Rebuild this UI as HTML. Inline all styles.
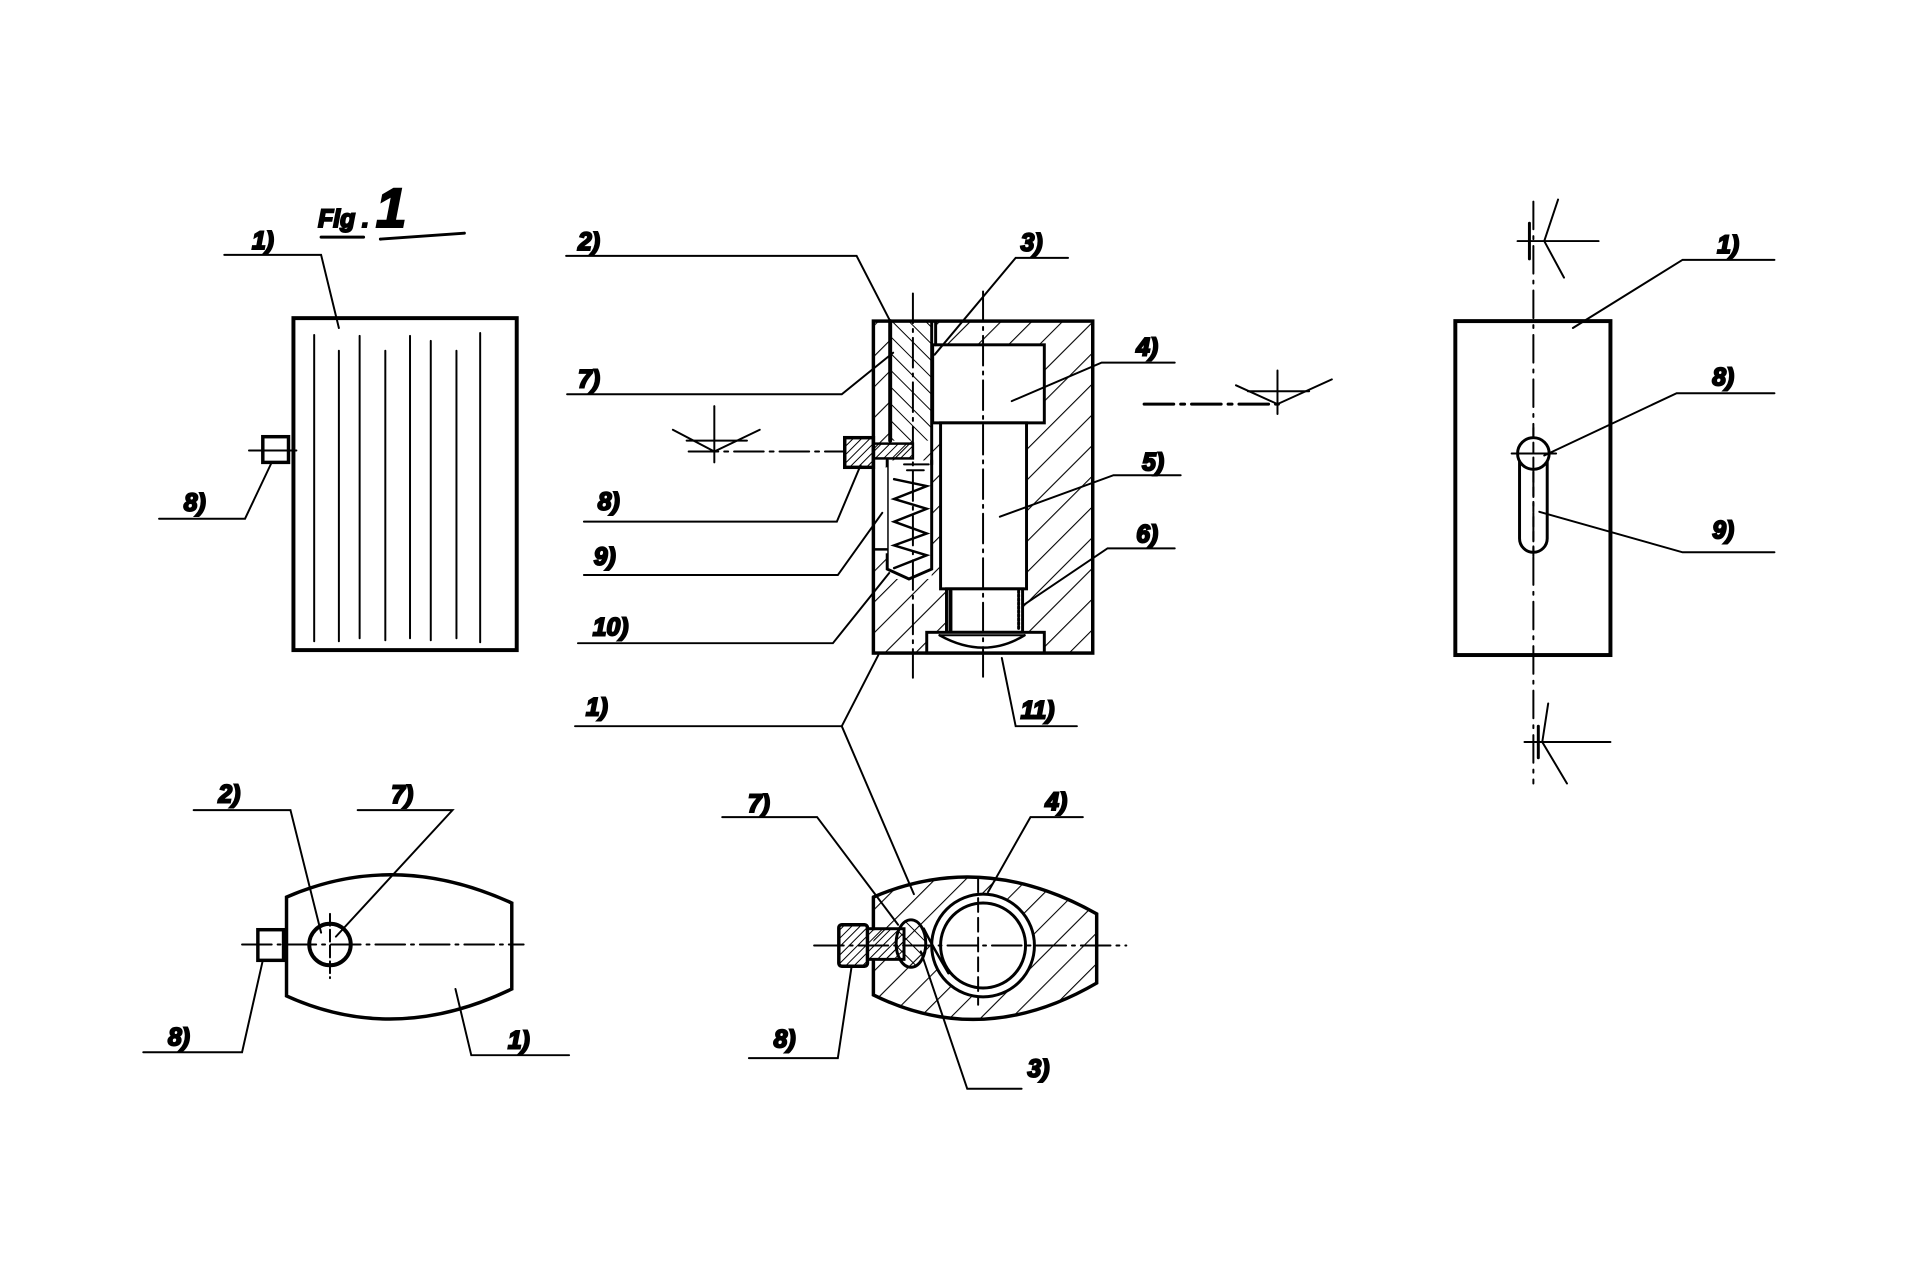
<!DOCTYPE html>
<html><head><meta charset="utf-8"><style>
html,body{margin:0;padding:0;background:#fff}
svg{display:block}
text{font-family:"Liberation Sans",sans-serif;font-style:italic;font-weight:bold;font-size:25px;fill:#000}
</style></head><body>
<svg width="1920" height="1280" viewBox="0 0 1920 1280" xmlns="http://www.w3.org/2000/svg">
<defs>
<pattern id="h1" width="22" height="22" patternUnits="userSpaceOnUse" patternTransform="rotate(45)">
<line x1="0" y1="0" x2="0" y2="22" stroke="#000" stroke-width="2.2"/></pattern>
<pattern id="h2" width="12" height="12" patternUnits="userSpaceOnUse" patternTransform="rotate(-45)">
<line x1="0" y1="0" x2="0" y2="12" stroke="#000" stroke-width="2"/></pattern>
<pattern id="h3" width="6" height="6" patternUnits="userSpaceOnUse" patternTransform="rotate(45)">
<line x1="0" y1="0" x2="0" y2="6" stroke="#000" stroke-width="2"/></pattern>
</defs>
<g transform="scale(0.988)">
<g fill="none" stroke="#000" stroke-width="2" stroke-linecap="round">

<!-- Title -->
<text x="322" y="230" font-size="40">Fig . <tspan font-size="56">1</tspan></text>
<line x1="325" y1="240" x2="368" y2="240" stroke-width="3"/>
<line x1="385" y1="242" x2="470" y2="236" stroke-width="3"/>

<!-- LEFT FRONT VIEW -->
<rect x="297" y="322" width="226" height="336" stroke-width="4"/>
<g stroke-width="2">
<line x1="318" y1="339" x2="318" y2="649"/><line x1="343" y1="355" x2="343" y2="649"/>
<line x1="364" y1="340" x2="364" y2="646"/><line x1="390" y1="355" x2="390" y2="648"/>
<line x1="415" y1="340" x2="415" y2="646"/><line x1="436" y1="345" x2="436" y2="648"/>
<line x1="462" y1="355" x2="462" y2="646"/><line x1="486" y1="337" x2="486" y2="650"/>
</g>
<rect x="266" y="442" width="26" height="26" stroke-width="3.5"/>
<line x1="252" y1="456" x2="300" y2="456"/>
<text x="255" y="252">1)</text>
<polyline points="227,258 325,258 343,332"/>
<text x="186" y="517">8)</text>
<polyline points="161,525 248,525 275,468"/>

<!-- MIDDLE SECTION VIEW -->
<rect x="884" y="325" width="222" height="336" fill="url(#h1)" stroke="none"/>
<rect x="901" y="325" width="42" height="121" fill="#fff" stroke="none"/>
<rect x="901" y="325" width="42" height="121" fill="url(#h2)" stroke="none"/>
<rect x="943" y="325" width="4" height="24" fill="#fff" stroke="none"/>
<rect x="944" y="349" width="113" height="79" fill="#fff" stroke-width="3"/>
<rect x="952" y="428" width="87" height="168" fill="#fff" stroke-width="3"/>
<rect x="958" y="596" width="77" height="44" fill="#fff" stroke-width="3"/>
<line x1="962" y1="598" x2="962" y2="638" stroke-width="4"/>
<line x1="1031" y1="598" x2="1031" y2="638" stroke-width="3" stroke-dasharray="2 2"/>
<rect x="938" y="640" width="119" height="21" fill="#fff" stroke-width="3"/>
<path d="M951,643 Q996,668 1037,643" stroke-width="2.5"/>
<line x1="951" y1="643" x2="1037" y2="643"/>
<rect x="898" y="466" width="45" height="120" fill="#fff" stroke="none"/>
<polyline points="898,466 898,576 920,586 943,576 943,466" stroke-width="3"/>
<polyline points="905,485 938,492 905,505 938,515 905,528 938,540 905,552 938,562 905,575" stroke-width="2.5"/>
<rect x="884" y="473" width="14" height="87" fill="#fff" stroke="none"/>
<line x1="884" y1="556" x2="898" y2="556" stroke-width="2.5"/>
<rect x="884" y="325" width="222" height="336" stroke-width="3.5"/>
<line x1="901" y1="325" x2="901" y2="446" stroke-width="4"/>
<line x1="943" y1="325" x2="943" y2="470" stroke-width="3"/>
<line x1="947" y1="325" x2="947" y2="349" stroke-width="3"/>
<!-- pin 8 -->
<rect x="884" y="449" width="40" height="15" fill="url(#h3)" stroke-width="2.5"/>
<rect x="855" y="443" width="29" height="30" fill="url(#h3)" stroke-width="3.5"/>
<line x1="915" y1="470" x2="940" y2="470" stroke-width="2"/>
<line x1="918" y1="476" x2="935" y2="476" stroke-width="2"/>
<!-- centerlines -->
<line x1="924" y1="297" x2="924" y2="686" stroke-dasharray="30 6 3 6"/>
<line x1="995" y1="295" x2="995" y2="690" stroke-dasharray="30 6 3 6"/>
<!-- section arrow left -->
<line x1="697" y1="457" x2="855" y2="457" stroke-dasharray="30 6 4 6"/>
<line x1="695" y1="446" x2="756" y2="446"/>
<line x1="723" y1="411" x2="723" y2="468"/>
<polyline points="681,435 723,457 769,435"/>
<!-- labels -->
<text x="585" y="253">2)</text><polyline points="573,259 867,259 901,325"/>
<text x="1033" y="254">3)</text><polyline points="1081,261 1028,261 946,359"/>
<text x="585" y="392">7)</text><polyline points="574,399 852,399 904,357"/>
<text x="605" y="516">8)</text><polyline points="591,528 847,528 871,471"/>
<text x="601" y="572">9)</text><polyline points="591,582 848,582 893,519"/>
<text x="600" y="643">10)</text><polyline points="585,651 843,651 900,580"/>
<text x="593" y="724">1)</text><polyline points="582,735 852,735 889,663"/><line x1="852" y1="735" x2="925" y2="905"/>
<text x="1150" y="360">4)</text><polyline points="1189,367 1115,367 1024,406"/>
<text x="1156" y="476">5)</text><polyline points="1195,481 1127,481 1012,523"/>
<text x="1150" y="549">6)</text><polyline points="1189,555 1121,555 1035,613"/>
<text x="1033" y="727">11)</text><polyline points="1090,735 1028,735 1014,666"/>
<!-- right section arrow -->
<line x1="1158" y1="409" x2="1294" y2="409" stroke-width="3" stroke-dasharray="30 7 4 7"/>
<line x1="1263" y1="396" x2="1325" y2="396"/>
<line x1="1293" y1="375" x2="1293" y2="419"/>
<polyline points="1251,390 1293,409 1348,384"/>

<!-- RIGHT VIEW -->
<rect x="1473" y="325" width="157" height="338" stroke-width="4"/>
<line x1="1552" y1="204" x2="1552" y2="793" stroke-dasharray="28 7 3 7"/>
<line x1="1536" y1="244" x2="1618" y2="244"/>
<line x1="1548" y1="226" x2="1548" y2="262" stroke-width="3"/>
<polyline points="1577,202 1563,244 1583,281"/>
<line x1="1543" y1="751" x2="1630" y2="751"/>
<line x1="1557" y1="735" x2="1557" y2="767" stroke-width="3"/>
<polyline points="1567,712 1561,751 1586,793"/>
<path d="M1538,462 L1538,545 A14,14 0 0 0 1566,545 L1566,462" stroke-width="3"/>
<circle cx="1552" cy="459" r="16" fill="#fff" stroke-width="3"/>
<line x1="1530" y1="459" x2="1575" y2="459"/>
<line x1="1552" y1="433" x2="1552" y2="568" stroke-dasharray="10 5"/>
<text x="1738" y="256">1)</text><polyline points="1796,263 1703,263 1592,332"/>
<text x="1733" y="390">8)</text><polyline points="1796,398 1697,398 1563,461"/>
<text x="1733" y="545">9)</text><polyline points="1796,559 1703,559 1558,518"/>

<!-- BOTTOM LEFT VIEW -->
<path d="M290,908 Q400,860 518,914 L518,1001 Q400,1058 290,1008 Z" stroke-width="3.5"/>
<rect x="261" y="941" width="26" height="31" stroke-width="3.5"/>
<line x1="245" y1="956" x2="530" y2="956" stroke-dasharray="30 6 3 6"/>
<circle cx="334" cy="956" r="21" stroke-width="4"/>
<line x1="334" y1="925" x2="334" y2="990" stroke-dasharray="12 4"/>
<text x="221" y="812">2)</text><polyline points="196,820 294,820 325,944"/>
<text x="396" y="813">7)</text><polyline points="362,820 458,820 340,948"/>
<text x="170" y="1058">8)</text><polyline points="145,1065 245,1065 266,972"/>
<text x="514" y="1061">1)</text><polyline points="576,1068 477,1068 461,1001"/>

<!-- BOTTOM MIDDLE SECTION -->
<path d="M884,908 Q995,860 1110,925 L1110,995 Q995,1062 884,1007 Z" fill="url(#h1)" stroke="none"/>
<circle cx="995" cy="957" r="52" fill="#fff" stroke-width="3"/>
<circle cx="995" cy="957" r="43" stroke-width="3"/>
<path d="M884,908 Q995,860 1110,925 L1110,995 Q995,1062 884,1007 L884,973 M884,940 L884,908" stroke-width="3.5"/>
<rect x="878" y="940" width="37" height="31" fill="url(#h3)" stroke-width="3"/>
<rect x="849" y="936" width="29" height="42" rx="3" fill="url(#h3)" stroke-width="3.5"/>
<ellipse cx="922" cy="955" rx="15" ry="24" fill="url(#h2)" stroke-width="3"/>
<path d="M935,940 Q945,960 960,985" stroke-width="2.5"/>
<line x1="824" y1="957" x2="1140" y2="957" stroke-dasharray="30 6 3 6"/>
<line x1="990" y1="889" x2="990" y2="1017" stroke-dasharray="14 6"/>
<text x="757" y="822">7)</text><polyline points="731,827 827,827 909,936"/>
<text x="1058" y="820">4)</text><polyline points="1096,827 1043,827 1000,903"/>
<text x="783" y="1060">8)</text><polyline points="758,1071 848,1071 862,978"/>
<text x="1040" y="1090">3)</text><polyline points="1034,1102 979,1102 932,963"/>
</g>
</g>
</svg>
</body></html>
